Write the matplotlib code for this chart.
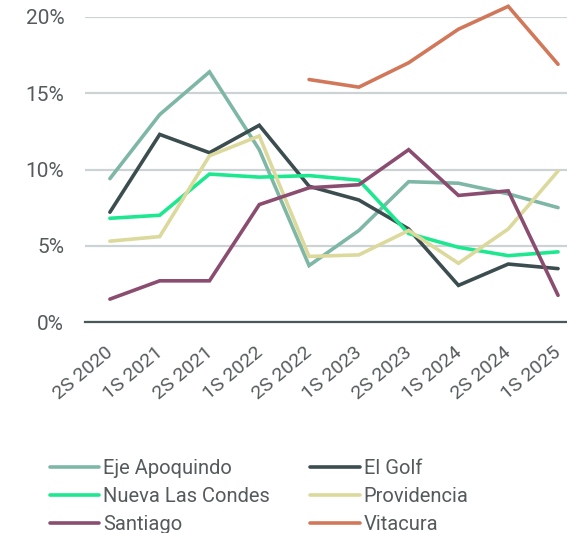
import numpy as np
import matplotlib
matplotlib.use("Agg")
import matplotlib.pyplot as plt
import matplotlib.transforms as mtransforms
from matplotlib.ticker import FuncFormatter

periods = ["2S 2020", "1S 2021", "2S 2021", "1S 2022", "2S 2022",
           "1S 2023", "2S 2023", "1S 2024", "2S 2024", "1S 2025"]

eje_apoquindo = [9.4, 13.6, 16.4, 11.3, 3.7, 6.0, 9.2, 9.1, 8.4, 7.5]
el_golf = [7.2, 12.3, 11.1, 12.9, 8.9, 8.0, 6.1, 2.4, 3.8, 3.5]
nueva_las_condes = [6.8, 7.0, 9.7, 9.5, 9.6, 9.3, 5.8, 4.9, 4.35, 4.6]
providencia = [5.3, 5.6, 10.9, 12.2, 4.3, 4.4, 6.0, 3.85, 6.1, 9.9]
santiago = [1.5, 2.7, 2.7, 7.7, 8.8, 9.0, 11.3, 8.3, 8.6, 1.75]
vitacura = [None, None, None, None, 15.9, 15.4, 17.0, 19.2, 20.7, 16.9]

series = [
    ("Eje Apoquindo", eje_apoquindo, "#7fb7a6"),
    ("El Golf", el_golf, "#3c4d50"),
    ("Nueva Las Condes", nueva_las_condes, "#1de890"),
    ("Providencia", providencia, "#dcd99c"),
    ("Santiago", santiago, "#8a4d70"),
    ("Vitacura", vitacura, "#d2785a"),
]

plt.rcParams["font.family"] = ["Roboto", "DejaVu Sans"]
txt = "#555a5c"

fig = plt.figure(figsize=(5.67, 5.33), dpi=100)
ax = fig.add_axes([85 / 567, 1 - 322 / 533, (567 - 85) / 567, 305 / 533])

x = np.arange(len(periods))
lines = {}
for name, vals, col in series:
    y = np.array([np.nan if v is None else v for v in vals], dtype=float)
    lines[name], = ax.plot(x, y, color=col, lw=2.6, label=name, clip_on=False,
                           solid_capstyle="round", solid_joinstyle="miter")

ax.set_xlim(-0.5, 9.18)
ax.set_ylim(0, 20)
ax.set_yticks([0, 5, 10, 15, 20])
ax.yaxis.set_major_formatter(FuncFormatter(lambda v, p: f"{v:.0f}%"))
ax.grid(axis="y", color="#cdd3d4", lw=1.6)
ax.set_axisbelow(True)
for s in ["top", "right", "left"]:
    ax.spines[s].set_visible(False)
ax.spines["bottom"].set_color("#4a5858")
ax.spines["bottom"].set_linewidth(1.6)

# x labels drawn as text so they can be nudged left a little
ax.set_xticks(x)
ax.set_xticklabels([])
ax.tick_params(axis="x", length=0)
lab_tr = ax.get_xaxis_transform() + mtransforms.ScaledTranslation(
    -5 / 100, -21 / 100, fig.dpi_scale_trans)
for xi, p in zip(x, periods):
    ax.text(xi, 0, p, transform=lab_tr, rotation=40, ha="right", va="top",
            rotation_mode="anchor", fontsize=14, color=txt, clip_on=False)
ax.tick_params(axis="y", length=0, pad=15, labelsize=15, labelcolor=txt)

# row-major legend order like the reference
order = ["Eje Apoquindo", "Nueva Las Condes", "Santiago",
         "El Golf", "Providencia", "Vitacura"]
fig.legend([lines[n] for n in order], order,
           loc="upper left", bbox_to_anchor=(50 / 567, 1 - 459 / 533),
           ncol=2, frameon=False, fontsize=14.5, labelcolor=txt,
           handlelength=2.45, handletextpad=0.2, columnspacing=2.0,
           labelspacing=0.45, borderpad=0, borderaxespad=0)

fig.savefig("out.png", dpi=100)
